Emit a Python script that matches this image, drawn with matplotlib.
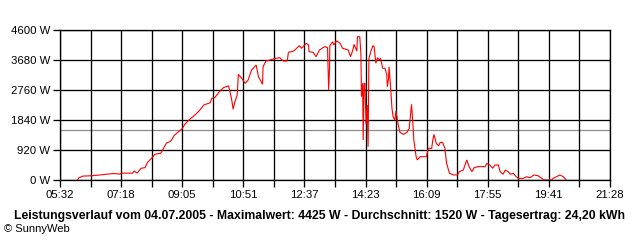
import matplotlib
matplotlib.use("Agg")
import matplotlib.pyplot as plt
import numpy as np

# time in minutes since midnight, power in W
minutes = [362, 365, 372, 387, 407, 425, 436, 439, 458, 461, 466, 473, 480, 484, 491, 497,
           507, 512, 517, 523, 526, 530, 538, 544, 549, 558, 568, 575, 582, 593, 596, 601,
           609, 616, 625, 628, 630, 633, 636, 640, 642, 648, 654, 659, 665, 673, 677, 684,
           685, 690, 697, 706, 714, 720, 727, 729, 738, 742, 748, 752, 760, 764, 765, 772,
           777, 783, 789, 793, 797, 798, 799, 800.5, 801, 806, 808, 813, 819, 823, 833, 837,
           841, 843, 848, 849, 853, 855, 856, 858, 859, 860.5, 862, 864, 866, 867.5, 869, 873,
           876, 878, 881, 884, 887, 889, 893, 897, 900, 901, 903, 904, 907, 909, 911, 914,
           916, 920, 923, 929, 935, 939, 942, 943, 945, 947, 951, 953, 958, 969, 972, 978,
           980, 982, 986, 990, 993, 997, 1001, 1004, 1009, 1016, 1023, 1026, 1033, 1039, 1043, 1048,
           1052, 1059, 1071, 1074, 1079, 1084, 1088, 1094, 1097, 1102, 1106, 1111, 1115, 1120, 1125, 1129,
           1137, 1143, 1149, 1156, 1163, 1171, 1172, 1187, 1189, 1195, 1201, 1207, 1212]
power = [0, 70, 120, 130, 165, 200, 180, 210, 210, 275, 210, 360, 380, 540, 665, 790,
         820, 970, 1135, 1175, 1225, 1360, 1480, 1565, 1710, 1870, 2015, 2145, 2300, 2370, 2505, 2525,
         2710, 2830, 2890, 2660, 2505, 2170, 2400, 2605, 3240, 3115, 2965, 3065, 3375, 3525, 3170, 2935,
         3475, 3650, 3680, 3730, 3750, 3650, 3650, 3915, 3955, 4015, 4120, 4040, 4190, 4140, 3935, 3915,
         3780, 3985, 4060, 4090, 4060, 3425, 2760, 3425, 4120, 4240, 4140, 4265, 4190, 4040, 3985, 3780,
         3985, 4160, 3955, 4395, 4395, 3885, 2555, 2965, 1225, 2965, 2965, 1700, 2300, 1020, 3730, 3985,
         4120, 4090, 3580, 3750, 3680, 3730, 3425, 3425, 3220, 2860, 3100, 3475, 2760, 2200, 1940, 1840,
         2115, 1685, 1460, 1400, 1460, 1585, 2145, 2320, 1840, 1225, 715, 615, 715, 715, 970, 970,
         1225, 1400, 1125, 1050, 1155, 1155, 970, 510, 205, 155, 155, 255, 305, 615, 410, 255,
         380, 410, 410, 510, 460, 360, 460, 460, 255, 175, 305, 255, 175, 205, 100, 50,
         50, 100, 70, 155, 130, 30, 0, 0, 50, 100, 155, 100, 0]

average_w = 1520
x_start, x_end = 332, 1288  # 05:32 .. 21:28
x_labels = ["05:32", "07:18", "09:05", "10:51", "12:37", "14:23", "16:09", "17:55", "19:41", "21:28"]
y_ticks = [0, 920, 1840, 2760, 3680, 4600]
y_labels = ["0 W", "920 W", "1840 W", "2760 W", "3680 W", "4600 W"]
title = "Leistungsverlauf vom 04.07.2005 - Maximalwert: 4425 W - Durchschnitt: 1520 W - Tagesertrag: 24,20 kWh"
credit = "\u00a9 SunnyWeb"

plt.rcParams['font.family'] = ['Liberation Sans', 'DejaVu Sans']

fig = plt.figure(figsize=(6.4, 2.4), dpi=100)
ax = fig.add_axes([60/640, 1-180/240, 550/640, 150/240])

ax.plot(minutes, power, color="#ff0000", lw=0.8, zorder=3, solid_joinstyle="miter")
ax.axhline(average_w, color="#8c8c8c", lw=0.9, zorder=1.5)

ax.set_xlim(x_start, x_end)
ax.set_ylim(0, 4600)

major = np.linspace(x_start, x_end, len(x_labels))
minor = (major[:-1] + major[1:]) / 2
ax.set_xticks(major)
ax.set_xticklabels(x_labels)
ax.set_xticks(minor, minor=True)
ax.set_yticks(y_ticks)
ax.set_yticklabels(y_labels)

ax.grid(True, which="both", color="black", lw=0.95, zorder=1)
ax.tick_params(axis="both", which="both", direction="out", length=5, width=0.95,
               color="black", labelsize=8.2, pad=2)
for s in ax.spines.values():
    s.set_linewidth(0.95)
    s.set_color("black")

fig.text(320/640, 1-216/240, title, ha="center", va="center", fontsize=8.8, fontweight="bold")
fig.text(4/640, 1-229/240, credit, ha="left", va="center", fontsize=8)

fig.savefig("out.png", dpi=100)
